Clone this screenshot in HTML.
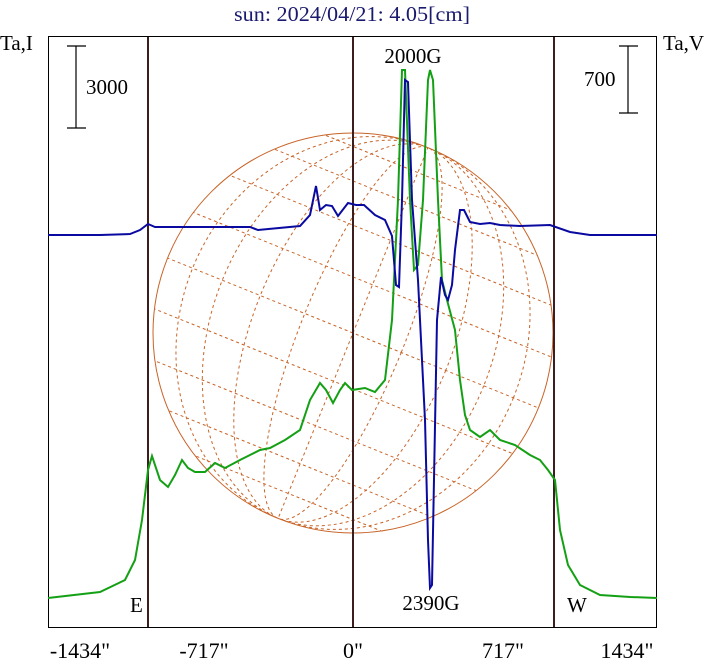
<!DOCTYPE html>
<html><head><style>body{margin:0;background:#fff}svg{display:block}text{font-family:"Liberation Serif",serif}</style></head><body>
<svg width="708" height="662" viewBox="0 0 708 662" xmlns="http://www.w3.org/2000/svg">
<rect width="708" height="662" fill="#fff"/>
<text x="352" y="21" font-size="21" fill="#1a1a6e" text-anchor="middle" textLength="236" lengthAdjust="spacingAndGlyphs">sun: 2024/04/21: 4.05[cm]</text>
<text x="0" y="50" font-size="21">Ta,I</text>
<text x="663" y="50" font-size="21">Ta,V</text>
<rect x="48.5" y="36.5" width="608" height="591" fill="none" stroke="#000" stroke-width="1"/>
<defs><clipPath id="c"><circle cx="353" cy="333" r="200"/></clipPath></defs>
<g clip-path="url(#c)" fill="none" stroke="#c86428" stroke-width="1" stroke-dasharray="3,3">
<g transform="rotate(22 353 333)">
<ellipse cx="353" cy="333" rx="52" ry="200"/>
<ellipse cx="353" cy="333" rx="100" ry="200"/>
<ellipse cx="353" cy="333" rx="141" ry="200"/>
<ellipse cx="353" cy="333" rx="173" ry="200"/>
<line x1="353" y1="120" x2="353" y2="540"/>
<line x1="140" y1="333" x2="570" y2="333"/>
<line x1="140" y1="281" x2="570" y2="281"/>
<line x1="140" y1="233" x2="570" y2="233"/>
<line x1="140" y1="192" x2="570" y2="192"/>
<line x1="140" y1="160" x2="570" y2="160"/>
<line x1="140" y1="385" x2="570" y2="385"/>
<line x1="140" y1="433" x2="570" y2="433"/>
<line x1="140" y1="474" x2="570" y2="474"/>
<line x1="140" y1="506" x2="570" y2="506"/>
</g></g>
<circle cx="353" cy="333" r="200" fill="none" stroke="#c86428" stroke-width="1"/>
<g stroke="#3c1e1e" stroke-width="2"><line x1="148" y1="37" x2="148" y2="627"/><line x1="353" y1="37" x2="353" y2="627"/><line x1="554" y1="37" x2="554" y2="627"/></g>
<g stroke="#000" stroke-width="1.2"><line x1="76" y1="46" x2="76" y2="128"/><line x1="67" y1="46" x2="86" y2="46"/><line x1="67" y1="128" x2="86" y2="128"/>
<line x1="628" y1="46" x2="628" y2="113"/><line x1="619" y1="46" x2="638" y2="46"/><line x1="619" y1="113" x2="638" y2="113"/></g>
<text x="86" y="94" font-size="21">3000</text>
<text x="584" y="86" font-size="21">700</text>
<text x="413" y="63" font-size="21" text-anchor="middle">2000G</text>
<text x="431" y="610" font-size="21" text-anchor="middle">2390G</text>
<text x="130" y="612" font-size="21">E</text>
<text x="567" y="612" font-size="21">W</text>
<polyline fill="none" stroke="#14a014" stroke-width="2" points="48,598 100,592 125,580 135,560 142,520 148,470 152,456 160,480 168,487 175,475 182,460 188,468 195,472 205,472 215,463 225,468 240,460 250,455 260,450 270,448 285,440 300,430 310,400 320,383 326,390 333,403 340,390 345,383 352,390 365,388 375,392 385,380 392,320 398,200 402,70 405,70 410,200 414,270 418,265 423,200 428,80 430,70 433,80 438,200 442,280 447,300 455,330 460,380 465,415 470,430 480,437 490,430 500,440 515,445 530,455 540,460 548,470 555,480 560,530 568,565 580,585 600,595 630,597 657,598"/>
<polyline fill="none" stroke="#0a0aa0" stroke-width="2" points="48,235 100,235 130,234 140,230 148,224 155,227 200,227 250,227 258,230 300,226 310,215 316,186 320,210 326,205 332,206 338,216 348,203 356,205 364,205 375,215 385,220 392,236 396,285 399,287 402,200 405,80 408,82 412,200 418,280 425,420 428,540 430,588 432,585 437,320 441,277 445,295 448,300 452,285 455,250 460,210 464,210 470,222 480,224 490,223 500,225 520,226 550,225 570,232 590,235 657,235"/>
<g font-size="22" text-anchor="middle"><text x="80" y="658">-1434"</text><text x="204" y="658">-717"</text><text x="353" y="658">0"</text><text x="503" y="658">717"</text><text x="627" y="658">1434"</text></g>
</svg></body></html>
